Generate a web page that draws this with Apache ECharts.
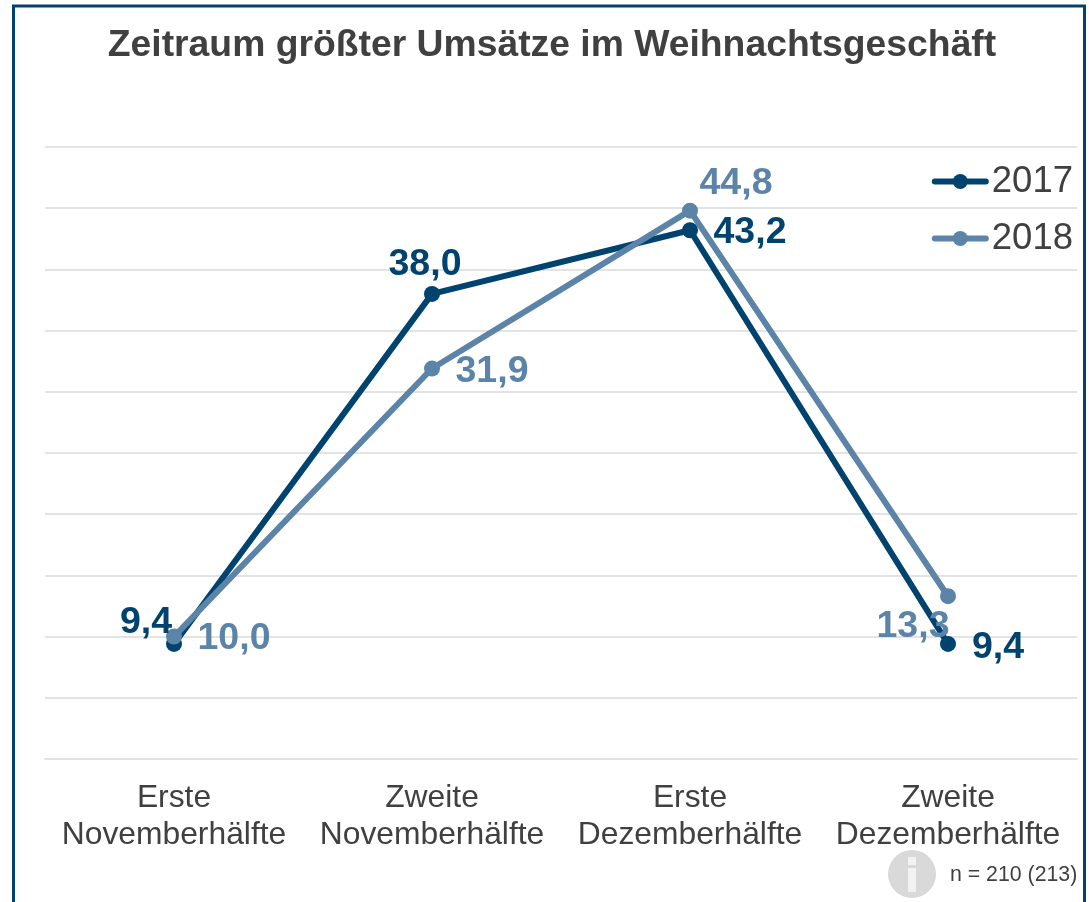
<!DOCTYPE html>
<html>
<head>
<meta charset="utf-8">
<style>
  html, body { margin: 0; padding: 0; background: #fff; }
  #chart { width: 1089px; height: 902px; }
</style>
<script src="https://cdn.jsdelivr.net/npm/echarts@6/dist/echarts.min.js"></script>
</head>
<body>
<div id="chart"></div>
<script>
const categories = [
  "Erste\nNovemberhälfte",
  "Zweite\nNovemberhälfte",
  "Erste\nDezemberhälfte",
  "Zweite\nDezemberhälfte",
];
const values2017 = [9.4, 38.0, 43.2, 9.4];
const values2018 = [10.0, 31.9, 44.8, 13.3];

const FONT = '"Liberation Sans", Arial, sans-serif';
const TEXT = "#404040";
const DARK = "#00436e";
const LIGHT = "#5b84a8";

function makeSeries(name, values, color, offsets) {
  return {
    name,
    type: "line",
    data: values.map((value, i) => ({
      value,
      label: { offset: offsets[i] },
    })),
    symbol: "circle",
    symbolSize: 16,
    lineStyle: { color, width: 6, cap: "round", join: "round" },
    itemStyle: { color },
    label: {
      show: true,
      position: "inside",
      color,
      fontFamily: FONT,
      fontSize: 37.5,
      fontWeight: "bold",
      formatter: ({ value }) => value.toFixed(1).replace(".", ","),
    },
    emphasis: { disabled: true },
    animation: false,
  };
}

const chart = echarts.init(document.getElementById("chart"));

chart.setOption({
  title: {
    text: "Zeitraum größter Umsätze im Weihnachtsgeschäft",
    left: 547,
    top: 22,
    textAlign: "center",
    textStyle: { fontFamily: FONT, fontSize: 37.3, fontWeight: "bold", color: TEXT },
  },
  legend: {
    orient: "vertical",
    right: 11,
    top: 158,
    itemWidth: 51,
    itemHeight: 19,
    itemGap: 20,
    lineStyle: { width: 6, cap: "round" },
    textStyle: { fontFamily: FONT, fontSize: 36.5, color: TEXT, padding: [0, 0, 0, 1] },
    data: ["2017", "2018"],
  },
  grid: { left: 45, right: 12, top: 147, height: 612 },
  xAxis: {
    type: "category",
    data: categories,
    axisTick: { show: false },
    axisLine: { lineStyle: { color: "#e3e3e3", width: 2 } },
    axisLabel: {
      fontFamily: FONT,
      fontSize: 31.8,
      lineHeight: 37,
      color: TEXT,
      margin: 21,
      interval: 0,
    },
  },
  yAxis: {
    type: "value",
    min: 0,
    max: 50,
    interval: 5,
    axisLabel: { show: false },
    axisLine: { show: false },
    axisTick: { show: false },
    splitLine: { lineStyle: { color: "#e3e3e3", width: 2 } },
  },
  series: [
    makeSeries("2017", values2017, DARK, [[-28, -21], [-7, -29], [60, 2], [50, 4]]),
    makeSeries("2018", values2018, LIGHT, [[60, 2], [60, 3], [46, -27], [-35, 30]]),
  ],
  graphic: [
    {
      type: "rect",
      shape: { x: 13.5, y: 6, width: 1071, height: 1000 },
      style: { fill: "none", stroke: DARK, lineWidth: 3 },
      silent: true,
    },
    {
      type: "circle",
      shape: { cx: 912, cy: 874, r: 24 },
      style: { fill: "#d9d9d9" },
      silent: true,
    },
    {
      type: "rect",
      shape: { x: 908, y: 857, width: 8, height: 8 },
      style: { fill: "#f2f2f2" },
      silent: true,
    },
    {
      type: "rect",
      shape: { x: 908, y: 868, width: 8, height: 24 },
      style: { fill: "#f2f2f2" },
      silent: true,
    },
    {
      type: "text",
      x: 950,
      y: 865,
      style: { text: "n = 210 (213)", fontFamily: FONT, fontSize: 21.3, fill: TEXT },
      silent: true,
    },
  ],
});
</script>
</body>
</html>
